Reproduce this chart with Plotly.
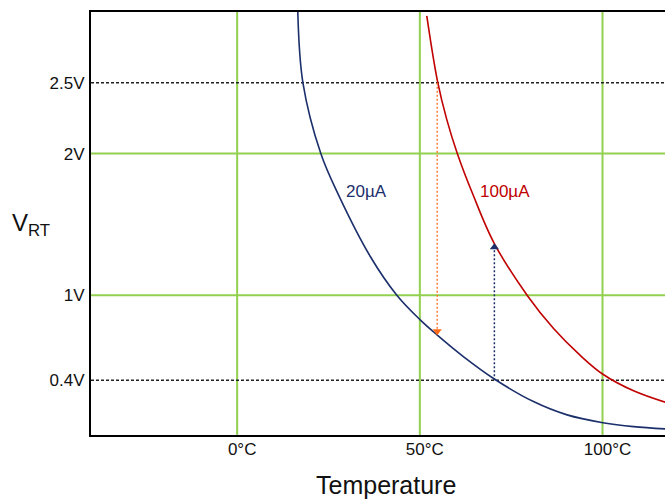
import plotly.graph_objects as go

# ---- data ----
temp_20uA = [16.6, 18.0, 22.9, 27.7, 36.4, 43.7, 50.1, 54.7, 62.0, 70.6, 81.1, 90.3, 100.1, 108.5, 117.2]
volt_20uA = [3.0, 2.5, 2.0, 1.71, 1.275, 1.0, 0.826, 0.72, 0.565, 0.405, 0.249, 0.155, 0.100, 0.072, 0.056]

temp_100uA = [51.9, 54.8, 57.4, 60.3, 64.4, 70.35, 79.5, 86.6, 93.9, 100.1, 108.5, 117.2]
volt_100uA = [2.972, 2.516, 2.238, 1.998, 1.72, 1.367, 0.995, 0.765, 0.575, 0.442, 0.325, 0.244]

x_grid = [0, 50, 100]
x_tick_labels = ["0°C", "50°C", "100°C"]
y_grid = [1, 2]
y_ticks = [0.4, 1, 2, 2.5]
y_tick_labels = ["0.4V", "1V", "2V", "2.5V"]
y_dotted = [0.4, 2.5]

# arrows: (x, from_y, to_y)
arrow_down_x, arrow_down_y0, arrow_down_y1 = 54.75, 2.5, 0.746
arrow_up_x, arrow_up_y0, arrow_up_y1 = 70.4, 0.4, 1.338

x_range = [-40, 117.1]
y_range = [0.013, 3.0]

NAVY = "#1B2F6B"
RED = "#C00000"
GREEN = "#92D050"
ORANGE = "#FF6A1A"
FONT = "Arial, Liberation Sans, sans-serif"

fig = go.Figure()

fig.add_trace(go.Scatter(x=temp_20uA, y=volt_20uA, mode="lines",
                         line=dict(color=NAVY, width=1.6, shape="spline", smoothing=1.0),
                         showlegend=False, hoverinfo="skip"))
fig.add_trace(go.Scatter(x=temp_100uA, y=volt_100uA, mode="lines",
                         line=dict(color=RED, width=1.6, shape="spline", smoothing=1.0),
                         showlegend=False, hoverinfo="skip"))

# dotted arrow shafts
fig.add_trace(go.Scatter(x=[arrow_down_x, arrow_down_x], y=[arrow_down_y0, arrow_down_y1],
                         mode="lines", line=dict(color=ORANGE, width=1.3, dash="2px,2px"),
                         showlegend=False, hoverinfo="skip"))
fig.add_trace(go.Scatter(x=[arrow_up_x, arrow_up_x], y=[arrow_up_y0, arrow_up_y1],
                         mode="lines", line=dict(color=NAVY, width=1.5, dash="2px,2px"),
                         showlegend=False, hoverinfo="skip"))
# arrow heads
fig.add_trace(go.Scatter(x=[arrow_down_x], y=[arrow_down_y1], mode="markers",
                         marker=dict(symbol="triangle-down", size=8, color=ORANGE),
                         showlegend=False, hoverinfo="skip"))
fig.add_trace(go.Scatter(x=[arrow_up_x], y=[arrow_up_y1], mode="markers",
                         marker=dict(symbol="triangle-up", size=8, color=NAVY),
                         showlegend=False, hoverinfo="skip"))

# grid lines and dotted reference lines
for gx in x_grid:
    fig.add_shape(type="line", xref="x", yref="y", x0=gx, x1=gx, y0=y_range[0], y1=y_range[1],
                  line=dict(color=GREEN, width=2), layer="below")
for gy in y_grid:
    fig.add_shape(type="line", xref="x", yref="y", x0=x_range[0], x1=x_range[1], y0=gy, y1=gy,
                  line=dict(color=GREEN, width=2), layer="below")
for dy in y_dotted:
    fig.add_shape(type="line", xref="x", yref="y", x0=x_range[0], x1=x_range[1], y0=dy, y1=dy,
                  line=dict(color="#222222", width=1.5, dash="3px,2px"), layer="below")

# curve labels
fig.add_annotation(x=35.5, y=1.73, text="20µA", showarrow=False,
                   font=dict(family=FONT, size=17, color=NAVY))
fig.add_annotation(x=73.4, y=1.73, text="100µA", showarrow=False,
                   font=dict(family=FONT, size=17, color=RED))

# axis titles
fig.add_annotation(xref="paper", yref="paper", x=(31 - 91) / 574, y=(435 - 224) / 423,
                   text="V<sub>RT</sub>", showarrow=False, xanchor="center", yanchor="middle",
                   font=dict(family=FONT, size=24, color="#111111"))
fig.add_annotation(xref="paper", yref="paper", x=(386 - 91) / 574, y=(435 - 485) / 423,
                   text="Temperature", showarrow=False, xanchor="center", yanchor="middle",
                   font=dict(family=FONT, size=25, color="#111111"))

fig.update_layout(
    width=665, height=500,
    margin=dict(l=91, r=0, t=12, b=65),
    paper_bgcolor="white", plot_bgcolor="white",
    font=dict(family=FONT, size=17, color="#111111"),
    showlegend=False,
)
fig.update_xaxes(range=x_range, showgrid=False, zeroline=False,
                 tickvals=x_grid, ticktext=x_tick_labels, ticks="", ticklabelshift=5,
                 ticklabelstandoff=-2,
                 showline=True, linecolor="black", linewidth=2, mirror=True,
                 tickfont=dict(family=FONT, size=17))
fig.update_yaxes(range=y_range, showgrid=False, zeroline=False,
                 tickvals=y_ticks, ticktext=y_tick_labels, ticks="", ticklabelstandoff=1,
                 showline=True, linecolor="black", linewidth=2, mirror=False,
                 tickfont=dict(family=FONT, size=17))

fig.write_html("out.html", config={"displayModeBar": False},
               post_script="document.body.style.margin='0';document.body.style.overflow='hidden';")
